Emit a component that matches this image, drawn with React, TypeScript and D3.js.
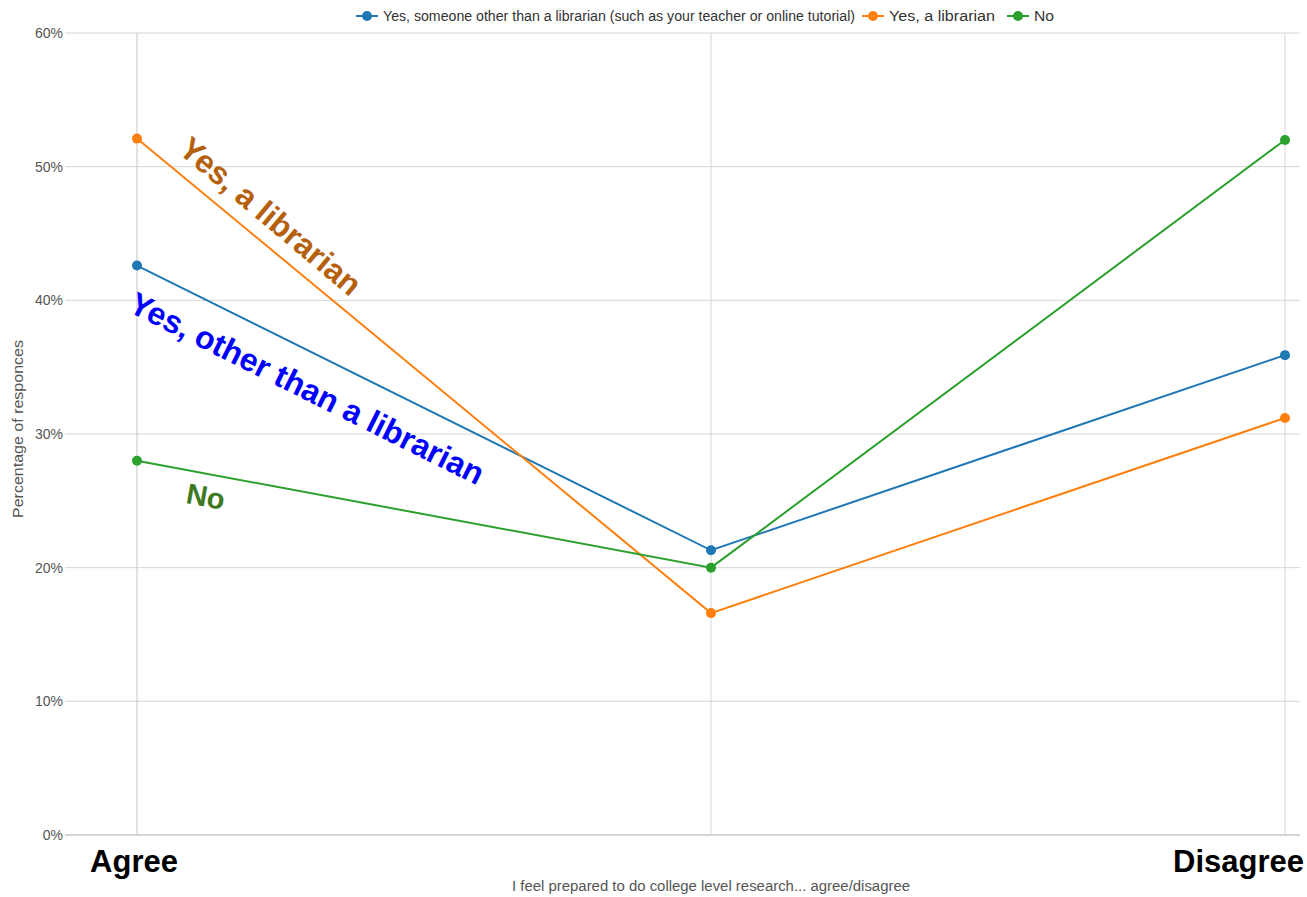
import React from "react";
import * as d3 from "d3";

const categories = ["Agree", "", "Disagree"];
const seriesNames = [
  "Yes, someone other than a librarian (such as your teacher or online tutorial)",
  "Yes, a librarian",
  "No",
];
const otherValues = [42.6, 21.3, 35.9];
const librarianValues = [52.1, 16.6, 31.2];
const noValues = [28.0, 20.0, 52.0];
const colors = ["#1f77b4", "#ff7f0e", "#2ca02c"];
const yTicks = [0, 10, 20, 30, 40, 50, 60];

const W = 1307;
const H = 897;
const plotLeft = 65;
const plotRight = 1300;
const plotTop = 33;
const plotBottom = 835;

export default function App() {
  const x = d3.scalePoint<number>().domain([0, 1, 2]).range([137, 1285]);
  const y = d3.scaleLinear().domain([0, 60]).range([plotBottom, plotTop]);
  const series = [otherValues, librarianValues, noValues];
  const line = d3
    .line<number>()
    .x((_, i) => x(i) as number)
    .y((d) => y(d));

  const font = "Helvetica, Arial, 'Liberation Sans', sans-serif";
  const bold = "Arial, 'Liberation Sans', sans-serif";
  const legendStarts = [356, 862, 1007];
  const legendLens = [472, 106, 20];

  return (
    <svg
      width={W}
      height={H}
      style={{ position: "absolute", left: 0, top: 0, background: "#fff" }}
      fontFamily={font}
    >
      {yTicks.map((t) => (
        <line
          key={"h" + t}
          x1={plotLeft}
          x2={plotRight}
          y1={y(t)}
          y2={y(t)}
          stroke={t === 0 ? "#aaa" : "#d6d6d6"}
          strokeWidth={1}
        />
      ))}
      {categories.map((_, i) => (
        <line
          key={"v" + i}
          x1={x(i)}
          x2={x(i)}
          y1={plotTop}
          y2={plotBottom}
          stroke={i === 0 ? "#c4c4c4" : "#d6d6d6"}
          strokeWidth={1}
        />
      ))}
      {yTicks.map((t) => (
        <text
          key={"yl" + t}
          x={63}
          y={y(t)}
          dy="0.35em"
          textAnchor="end"
          fontSize={14}
          fill="#555"
        >
          {t + "%"}
        </text>
      ))}
      <text
        transform={`translate(23,429) rotate(-90)`}
        textAnchor="middle"
        fontSize={14}
        fill="#555"
        textLength={178}
        lengthAdjust="spacingAndGlyphs"
      >
        Percentage of responces
      </text>
      <text
        x={x(0)! - 3}
        y={872}
        textAnchor="middle"
        fontSize={31}
        fontWeight="bold"
        fontFamily={bold}
        fill="#000"
      >
        {categories[0]}
      </text>
      <text
        x={1304}
        y={872}
        textAnchor="end"
        fontSize={31}
        fontWeight="bold"
        fontFamily={bold}
        fill="#000"
      >
        {categories[2]}
      </text>
      <text
        x={711}
        y={891}
        textAnchor="middle"
        fontSize={14}
        fill="#555"
        textLength={398}
        lengthAdjust="spacingAndGlyphs"
      >
        I feel prepared to do college level research... agree/disagree
      </text>
      {series.map((s, k) => (
        <g key={"s" + k}>
          <path d={line(s) as string} fill="none" stroke={colors[k]} strokeWidth={2} />
          {s.map((v, i) => (
            <circle key={i} cx={x(i)} cy={y(v)} r={5} fill={colors[k]} />
          ))}
        </g>
      ))}
      <text
        transform="translate(177,152) rotate(40)"
        fontSize={32}
        fontWeight="bold"
        fontFamily={bold}
        fill="#b5600c"
      >
        Yes, a librarian
      </text>
      <text
        transform="translate(127,311) rotate(26.5)"
        fontSize={32}
        fontWeight="bold"
        fontFamily={bold}
        fill="#0000ff"
      >
        Yes, other than a librarian
      </text>
      <text
        transform="translate(185,503) rotate(10)"
        fontSize={29}
        fontWeight="bold"
        fontFamily={bold}
        fill="#3d7a1f"
      >
        No
      </text>
      {seriesNames.map((name, k) => (
        <g key={"lg" + k} transform={`translate(${legendStarts[k]},16)`}>
          <line x1={0} x2={22} y1={0} y2={0} stroke={colors[k]} strokeWidth={2} />
          <circle cx={11} cy={0} r={5} fill={colors[k]} />
          <text
            x={27}
            y={0}
            dy="0.35em"
            fontSize={14}
            fill="#333"
            textLength={legendLens[k]}
            lengthAdjust="spacingAndGlyphs"
          >
            {name}
          </text>
        </g>
      ))}
    </svg>
  );
}
